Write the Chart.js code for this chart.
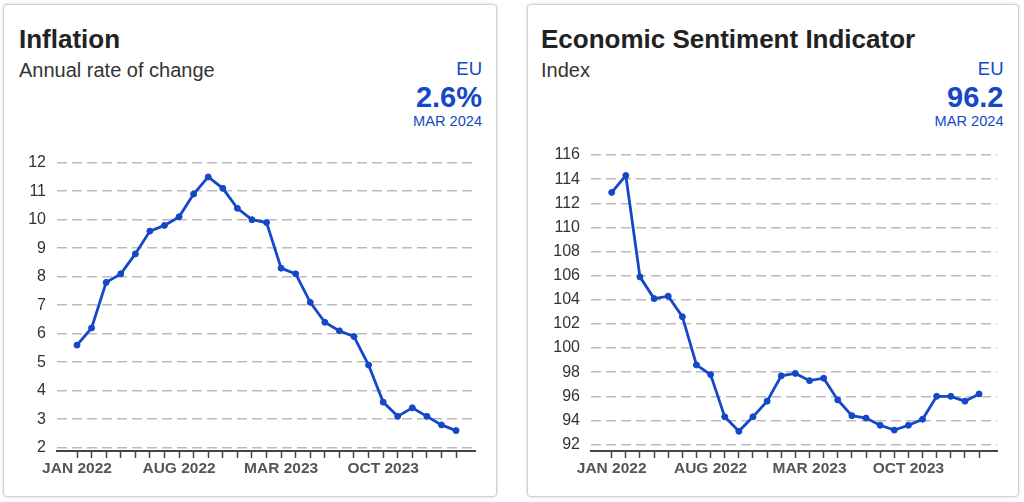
<!DOCTYPE html>
<html>
<head>
<meta charset="utf-8">
<script src="https://cdn.jsdelivr.net/npm/chart.js@4.4.1/dist/chart.umd.min.js"></script>
<style>
  body { margin: 0; background: #fff; font-family: "Liberation Sans", Arial, sans-serif; }
  .card { position: absolute; top: 4px; height: 491px; border: 1px solid #d2d2d2; border-radius: 4px;
          box-shadow: 0 0 3px rgba(0,0,0,0.18); background: #fff; }
  .t { position: absolute; white-space: nowrap; line-height: 1; }
  .title { font-size: 26px; font-weight: bold; color: #222; top: 26px; }
  .sub { font-size: 20px; color: #333; top: 60.4px; }
  .geo { font-size: 18.5px; color: #1448c8; top: 60.3px; }
  .val { font-size: 29px; font-weight: bold; color: #1448c8; top: 82.5px; }
  .date { font-size: 14.6px; color: #1448c8; top: 114.3px; }
  .box { position: absolute; top: 140px; height: 350px; }
</style>
</head>
<body>
<div class="card" style="left:3px; width:492px;"></div>
<div class="card" style="left:527px; width:490px;"></div>

<div class="t title" style="left:19px;">Inflation</div>
<div class="t sub" style="left:19px;">Annual rate of change</div>
<div class="t geo" style="right:542px;">EU</div>
<div class="t val" style="right:542px;">2.6%</div>
<div class="t date" style="right:542px;">MAR 2024</div>

<div class="t title" style="left:541px;">Economic Sentiment Indicator</div>
<div class="t sub" style="left:541px;">Index</div>
<div class="t geo" style="right:20.5px;">EU</div>
<div class="t val" style="right:20.5px;">96.2</div>
<div class="t date" style="right:20.5px;">MAR 2024</div>

<div class="box" style="left:20px; width:465px;"><canvas id="infl"></canvas></div>
<div class="box" style="left:540px; width:467px;"><canvas id="esi"></canvas></div>

<script>
const months = ['JAN 2022','FEB 2022','MAR 2022','APR 2022','MAY 2022','JUN 2022','JUL 2022','AUG 2022',
  'SEP 2022','OCT 2022','NOV 2022','DEC 2022','JAN 2023','FEB 2023','MAR 2023','APR 2023','MAY 2023',
  'JUN 2023','JUL 2023','AUG 2023','SEP 2023','OCT 2023','NOV 2023','DEC 2023','JAN 2024','FEB 2024','MAR 2024'];
const shownMonths = ['JAN 2022','AUG 2022','MAR 2023','OCT 2023'];

const inflation = [5.6, 6.2, 7.8, 8.1, 8.8, 9.6, 9.8, 10.1, 10.9, 11.5, 11.1, 10.4, 10.0, 9.9, 8.3, 8.1, 7.1,
  6.4, 6.1, 5.9, 4.9, 3.6, 3.1, 3.4, 3.1, 2.8, 2.6];
const sentiment = [112.9, 114.3, 105.9, 104.1, 104.3, 102.6, 98.6, 97.8, 94.3, 93.1, 94.3, 95.6, 97.7, 97.9,
  97.3, 97.5, 95.7, 94.4, 94.2, 93.6, 93.2, 93.6, 94.1, 96.0, 96.0, 95.6, 96.2];

const blue = '#1448c8';

function makeChart(id, values, o) {
    return new Chart(document.getElementById(id), {
        type: 'line',
        data: {
            datasets: [{
                data: values.map((v, i) => ({ x: i, y: v })),
                borderColor: blue,
                backgroundColor: blue,
                borderWidth: 2.8,
                pointRadius: 3,
                pointBorderWidth: 1,
                tension: 0
            }]
        },
        options: {
            responsive: true,
            maintainAspectRatio: false,
            animation: false,
            layout: { padding: { top: o.padTop, right: 10, left: 0, bottom: 0 } },
            plugins: { legend: { display: false }, tooltip: { enabled: false } },
            scales: {
                x: {
                    type: 'linear',
                    min: o.xMin,
                    max: o.xMax,
                    afterFit: s => { s.height = 39; },
                    afterBuildTicks: s => { s.ticks = months.map((m, i) => ({ value: i })); },
                    grid: { drawOnChartArea: false, drawTicks: true, tickLength: 7, tickColor: '#444', tickWidth: 1.5 },
                    border: { display: true, color: '#444', width: 2 },
                    ticks: {
                        autoSkip: false,
                        maxRotation: 0,
                        padding: 1,
                        color: '#555',
                        font: { family: 'Liberation Sans', size: 15.5, weight: 'bold' },
                        callback: v => shownMonths.includes(months[v]) ? months[v] : ''
                    }
                },
                y: {
                    min: o.yMin,
                    max: o.yMax,
                    // fixed axis width, and no extra padding so the layout padding sets the top
                    afterFit: s => { s.width = o.yWidth; s.paddingTop = 0; s.paddingBottom = 0; },
                    grid: { color: '#bbb', lineWidth: 1.5, drawTicks: false },
                    border: { display: false, dash: [10, 5] },
                    ticks: {
                        stepSize: o.step,
                        includeBounds: false,
                        padding: 11,
                        color: '#333',
                        font: { family: 'Liberation Sans', size: 16 }
                    }
                }
            }
        }
    });
}

makeChart('infl', inflation, { xMin: -1.372, xMax: 27.3, yMin: 1.885, yMax: 12, step: 1, yWidth: 37, padTop: 22.7 });
makeChart('esi', sentiment, { xMin: -1.465, xMax: 27.27, yMin: 91.47, yMax: 116, step: 2, yWidth: 51, padTop: 15 });
</script>
</body>
</html>
